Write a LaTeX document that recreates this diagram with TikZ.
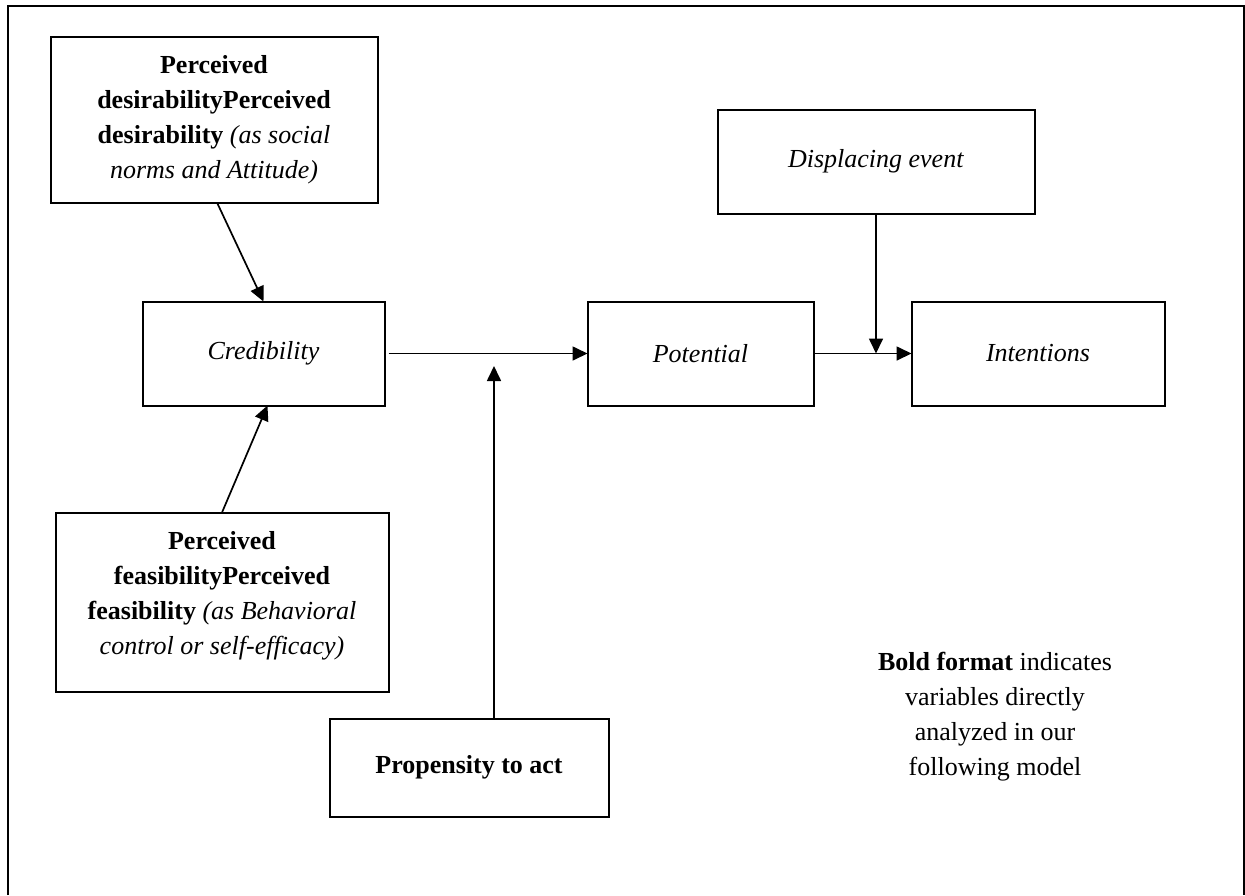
\documentclass[tikz,border=0pt]{standalone}
\usepackage{fontspec}
\setmainfont{Liberation Serif}
\usetikzlibrary{arrows.meta,calc}
\begin{document}
\begin{tikzpicture}[x=1pt,y=-1pt,
  box/.style={draw,line width=2pt,rectangle,inner sep=0pt,outer sep=0pt,align=center,
    font=\fontsize{26}{35}\selectfont},
  conn/.style={line width=1.7pt,-{Triangle[length=15pt,width=14pt]}},
  txt/.style={align=center,inner sep=0pt,font=\fontsize{26}{35}\selectfont}]
\useasboundingbox (0,0) rectangle (1245,895);
\draw[line width=2.2pt] (8,895) -- (8,6) -- (1244,6) -- (1244,895);

\node[box,minimum width=327pt,minimum height=166pt] (tl) at (214,119.5)
  {\textbf{Perceived}\\\textbf{desirabilityPerceived}\\\textbf{desirability} \textit{(as social}\\\textit{norms and Attitude)}};
\node[box,minimum width=242pt,minimum height=104pt] (cred) at (263.5,353.5) {\raisebox{-4pt}{\textit{Credibility}}};
\node[box,minimum width=333pt,minimum height=179pt] (bl) at (222,602)
  {\textbf{Perceived}\\\textbf{feasibilityPerceived}\\\textbf{feasibility} \textit{(as Behavioral}\\\textit{control or self-efficacy)}\\[-27pt]\strut};
\node[box,minimum width=279pt,minimum height=98pt] (prop) at (469,767.5) {\textbf{Propensity to act}};
\node[box,minimum width=226pt,minimum height=104pt] (pot) at (700.5,353.5) {\textit{Potential}};
\node[box,minimum width=253pt,minimum height=104pt] (int) at (1038,353.5) {\textit{Intentions}};
\node[box,minimum width=317pt,minimum height=104pt] (disp) at (876,161.5) {\raisebox{-4pt}{\textit{Displacing event}}};

\node[txt] (note) at (995,717) {\textbf{Bold format} indicates\\variables directly\\analyzed in our\\following model};

\coordinate (j1) at (494,366);
\draw[conn] ([xshift=3pt]tl.south) -- (cred.north);
\draw[conn] (bl.north) -- ([xshift=4pt]cred.south);
\draw[conn,shorten <=4pt] (cred.east) -- (pot.west);
\draw[conn] (prop.north -| j1) -- (j1);
\draw[conn] (pot.east) -- (int.west);
\draw[conn] (disp.south) -- (disp.south |- pot.east);
\end{tikzpicture}
\end{document}
